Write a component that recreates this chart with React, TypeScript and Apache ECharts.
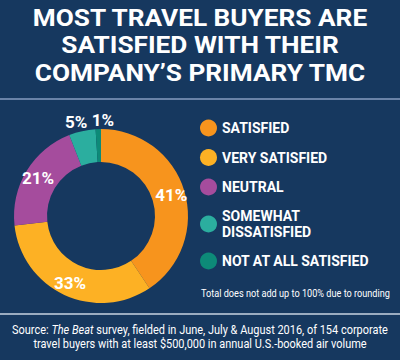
import React, { useEffect, useRef } from "react";
import * as echarts from "echarts";

const categories = ["SATISFIED", "VERY SATISFIED", "NEUTRAL", "SOMEWHAT DISSATISFIED", "NOT AT ALL SATISFIED"];
const legendLabels = ["SATISFIED", "VERY SATISFIED", "NEUTRAL", "SOMEWHAT\nDISSATISFIED", "NOT AT ALL SATISFIED"];
const values = [41, 33, 21, 5, 1];
const colors = ["#f7941d", "#fdb124", "#a54c9d", "#2bae9f", "#0d8a78"];
const outsideLabel = [false, false, false, true, true];
const labelNudgeX = [0, 0, 0, -4, 5];

const titleText = "MOST TRAVEL BUYERS ARE\nSATISFIED WITH THEIR\nCOMPANY’S PRIMARY TMC";
const sourceText =
  "{a|Source: }{i|The Beat}{a| survey, fielded in June, July & August 2016, of 154 corporate}\n{a|travel buyers with at least $500,000 in annual U.S.-booked air volume}";
const noteText = "Total does not add up to 100% due to rounding";

const BG = "#16385f";
const FONT = "Roboto, 'DejaVu Sans', sans-serif";

export default function App() {
  const ref = useRef<HTMLDivElement>(null);
  useEffect(() => {
    if (!ref.current) return;
    const chart = echarts.init(ref.current, null, { renderer: "svg" });
    const legendMap: Record<string, string> = {};
    categories.forEach((c, i) => (legendMap[c] = legendLabels[i]));
    const total = values.reduce((a, b) => a + b, 0);
    const midAngles: number[] = [];
    let acc = 0;
    values.forEach((v) => {
      midAngles.push(((acc + v / 2) / total) * Math.PI * 2);
      acc += v;
    });
    const push = 23;
    chart.setOption({
      animation: false,
      backgroundColor: BG,
      legend: {
        orient: "vertical",
        left: 195,
        top: 114.5,
        icon: "circle",
        itemWidth: 17,
        itemHeight: 17,
        itemGap: 12.5,
        selectedMode: false,
        data: categories,
        formatter: (name: string) => legendMap[name] || name,
        textStyle: {
          color: "#ffffff",
          fontFamily: FONT,
          fontWeight: "bold",
          fontSize: 14,
          lineHeight: 16,
        },
      },
      graphic: [
        { type: "line", shape: { x1: 0, y1: 99, x2: 400, y2: 99 }, style: { stroke: "#6a83a8", lineWidth: 2 } },
        { type: "line", shape: { x1: 0, y1: 314, x2: 400, y2: 314 }, style: { stroke: "#c9d3e0", lineWidth: 1.5 } },
        {
          type: "text",
          x: 200,
          y: 45.5,
          scaleX: 1.14,
          style: {
            text: titleText,
            fill: "#ffffff",
            fontFamily: FONT,
            fontWeight: "bold",
            fontSize: 23,
            lineHeight: 27.5,
            align: "center",
            verticalAlign: "middle",
          },
        },
        {
          type: "text",
          x: 200,
          y: 337,
          scaleX: 0.914,
          style: {
            text: sourceText,
            fill: "#ffffff",
            align: "center",
            verticalAlign: "middle",
            rich: {
              a: { fill: "#ffffff", fontFamily: FONT, fontSize: 12, lineHeight: 14 },
              i: { fill: "#ffffff", fontFamily: FONT, fontSize: 12, lineHeight: 14, fontStyle: "italic" },
            },
          },
        },
        {
          type: "text",
          x: 201,
          y: 293,
          scaleX: 0.89,
          style: {
            text: noteText,
            fill: "#ffffff",
            fontFamily: FONT,
            fontSize: 10.3,
            align: "left",
            verticalAlign: "middle",
          },
        },
      ],
      series: [
        {
          type: "pie",
          center: [101, 216],
          radius: [54, 87],
          startAngle: 90,
          clockwise: true,
          avoidLabelOverlap: false,
          emphasis: { disabled: true },
          itemStyle: { borderWidth: 0 },
          label: {
            show: true,
            position: "inside",
            formatter: "{c}%",
            color: "#ffffff",
            fontFamily: FONT,
            fontWeight: "bold",
            fontSize: 17,
          },
          labelLine: { show: false },
          labelLayout: (params: any) => {
            const i = params.dataIndex;
            if (!outsideLabel[i]) return {};
            const a = midAngles[i];
            return { dx: push * Math.sin(a) + labelNudgeX[i], dy: -push * Math.cos(a) };
          },
          data: categories.map((name, i) => ({
            name,
            value: values[i],
            itemStyle: { color: colors[i] },
          })),
        },
      ],
    });
    return () => chart.dispose();
  }, []);
  return (
    <div
      ref={ref}
      style={{ position: "fixed", left: 0, top: 0, width: 400, height: 360 }}
    />
  );
}
